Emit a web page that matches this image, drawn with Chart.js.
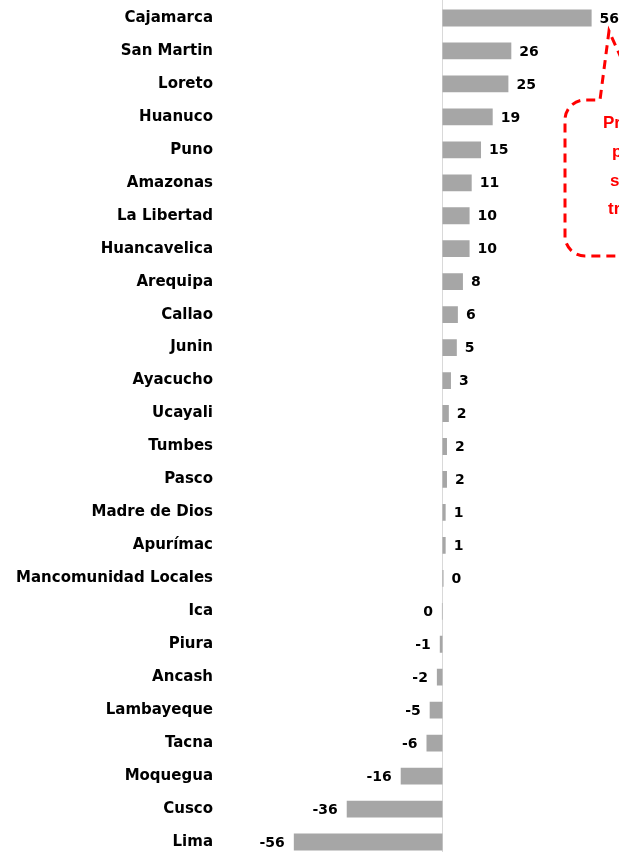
<!DOCTYPE html>
<html>
<head>
<meta charset="utf-8">
<script src="https://cdn.jsdelivr.net/npm/chart.js@4"></script>
<style>
  html, body { margin: 0; padding: 0; background: #fff; overflow: hidden; }
  #graph { display: block; }
</style>
</head>
<body>
<canvas id="graph" width="619" height="860"></canvas>
<script>
// ------------ data -----------------------

var regiones = [
  "Cajamarca", "San Martin", "Loreto", "Huanuco", "Puno", "Amazonas",
  "La Libertad", "Huancavelica", "Arequipa", "Callao", "Junin", "Ayacucho",
  "Ucayali", "Tumbes", "Pasco", "Madre de Dios", "Apurímac",
  "Mancomunidad Locales", "Ica", "Piura", "Ancash", "Lambayeque", "Tacna",
  "Moquegua", "Cusco", "Lima"
];

var valores = [
  56.1, 25.9, 24.8, 18.9, 14.5, 11.0,
  10.2, 10.2, 7.7, 5.8, 5.4, 3.2,
  2.4, 1.7, 1.7, 1.2, 1.2,
  0.4, -0.2, -1.0, -2.1, -4.8, -6.0,
  -15.7, -36.0, -55.9
];

var notaLineas = ["Principales", "proyectos", "se", "trasladan"];

// ------------ plugins ---------------------

var zeroLine = {
  id: "zeroLine",
  beforeDatasetsDraw: function (chart) {
    var ctx = chart.ctx;
    var x = Math.round(chart.scales.x.getPixelForValue(0)) + 0.5;
    ctx.save();
    ctx.strokeStyle = "#d9d9d9";
    ctx.lineWidth = 1;
    ctx.beginPath();
    ctx.moveTo(x, 0);
    ctx.lineTo(x, chart.height);
    ctx.stroke();
    ctx.restore();
  },
};

var valueLabels = {
  id: "valueLabels",
  afterDatasetsDraw: function (chart) {
    var ctx = chart.ctx;
    var meta = chart.getDatasetMeta(0);
    ctx.save();
    ctx.font = "bold 14px 'DejaVu Sans'";
    ctx.fillStyle = "#000";
    ctx.textBaseline = "middle";
    meta.data.forEach(function (bar, i) {
      var v = valores[i];
      var txt = String(Math.round(v));
      if (txt === "-0") txt = "0";
      if (v >= 0) {
        ctx.textAlign = "left";
        ctx.fillText(txt, bar.x + 8, bar.y + 1);
      } else {
        ctx.textAlign = "right";
        ctx.fillText(txt, bar.x - 9, bar.y + 1);
      }
    });
    ctx.restore();
  },
};

var callout = {
  id: "callout",
  afterDraw: function (chart) {
    var ctx = chart.ctx;
    ctx.save();
    ctx.strokeStyle = "#ff0000";
    ctx.lineWidth = 3;
    ctx.setLineDash([9, 6]);
    ctx.beginPath();
    ctx.moveTo(640, 100);
    ctx.lineTo(609, 31);
    ctx.lineTo(600, 100);
    ctx.lineTo(585, 100);
    ctx.arcTo(565, 100, 565, 120, 20);
    ctx.lineTo(565, 236);
    ctx.arcTo(565, 256, 585, 256, 20);
    ctx.lineTo(720, 256);
    ctx.stroke();

    ctx.setLineDash([]);
    ctx.fillStyle = "#ff0000";
    ctx.font = "bold 17px 'Liberation Sans'";
    ctx.textAlign = "left";
    ctx.textBaseline = "middle";
    var xs = [603, 612, 610, 608];
    var ys = [123, 152, 181, 209];
    for (var i = 0; i < notaLineas.length; i++) {
      ctx.fillText(notaLineas[i], xs[i], ys[i]);
    }
    ctx.restore();
  },
};

// ------------ graph -----------------------

var ctx = document.getElementById("graph");

var myChart = new Chart(ctx, {
  type: "bar",
  data: {
    labels: regiones,
    datasets: [
      {
        data: valores,
        backgroundColor: "#a6a6a6",
        borderWidth: 0,
        barPercentage: 0.51,
        categoryPercentage: 1,
      },
    ],
  },
  options: {
    indexAxis: "y",
    responsive: false,
    animation: false,
    layout: { padding: 0 },
    plugins: {
      legend: { display: false },
      tooltip: { enabled: false },
    },
    scales: {
      x: {
        display: false,
        min: -86.3,
        max: 66.4,
      },
      y: {
        grid: { display: false, drawTicks: false },
        border: { display: false },
        afterFit: function (scale) {
          scale.width = 213;
        },
        ticks: {
          padding: 0,
          color: "#000",
          autoSkip: false,
          font: { family: "'DejaVu Sans'", size: 15, weight: "bold", lineHeight: 0.2 },
        },
      },
    },
  },
  plugins: [zeroLine, valueLabels, callout],
});
</script>
</body>
</html>
